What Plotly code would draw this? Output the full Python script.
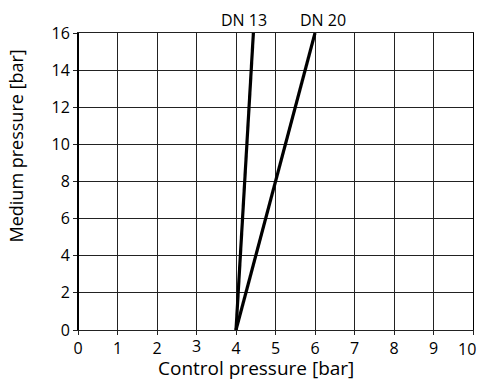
import plotly.graph_objects as go

# Data
dn13_x = [4.0, 4.44]
dn13_y = [0, 16]
dn20_x = [4.0, 6.0]
dn20_y = [0, 16]
series_names = ["DN 13", "DN 20"]
x_ticks = [0, 1, 2, 3, 4, 5, 6, 7, 8, 9, 10]
y_ticks = [0, 2, 4, 6, 8, 10, 12, 14, 16]
x_title = "Control pressure [bar]"
y_title = "Medium pressure [bar]"

font_family = "Open Sans, DejaVu Sans, sans-serif"

fig = go.Figure()
label_shift = {"DN 13": -9, "DN 20": 8}
for xs, ys, name in [(dn13_x, dn13_y, series_names[0]), (dn20_x, dn20_y, series_names[1])]:
    fig.add_trace(go.Scatter(x=xs, y=ys, mode="lines", name=name,
                             line=dict(color="black", width=3.2), showlegend=False,
                             cliponaxis=False, hoverinfo="skip"))
    fig.add_annotation(x=xs[-1], y=ys[-1], text=name, showarrow=False,
                       xref="x", yref="y", yanchor="bottom", yshift=0,
                       xanchor="center", xshift=label_shift[name],
                       font=dict(size=16, color="black", family=font_family))

# tick labels 3 and 10 are drawn as annotations (3 sits higher, 10 is pushed inside)
x_ticktext = [str(v) if v not in (3, 10) else "" for v in x_ticks]
fig.add_annotation(x=3, y=0, xref="x", yref="y", text="3", showarrow=False,
                   yanchor="top", yshift=-3,
                   font=dict(size=16, color="black", family=font_family))
fig.add_annotation(x=10, y=0, xref="x", yref="y", text="10", showarrow=False,
                   yanchor="top", xanchor="right", xshift=5, yshift=-6,
                   font=dict(size=16, color="black", family=font_family))

# axis titles (placed as in the reference, off-centre)
fig.add_annotation(x=0.5, y=0, xref="paper", yref="paper", text=x_title, showarrow=False,
                   xanchor="center", yanchor="middle", xshift=-19.5, yshift=-38,
                   font=dict(size=19, color="black", family=font_family))
fig.add_annotation(x=0, y=0.5, xref="paper", yref="paper", text=y_title, showarrow=False,
                   textangle=-90, xanchor="center", yanchor="middle", xshift=-62.5, yshift=35.5,
                   font=dict(size=18, color="black", family=font_family))

fig.update_layout(
    width=479, height=381, autosize=False,
    margin=dict(l=78, r=6, t=33, b=51, autoexpand=False),
    paper_bgcolor="white", plot_bgcolor="white",
    font=dict(family=font_family, size=16, color="black"),
    xaxis=dict(range=[0, 10], tickmode="array", tickvals=x_ticks, ticktext=x_ticktext,
               showgrid=True, gridcolor="#222", gridwidth=1,
               zeroline=False, showline=True, linecolor="#222", linewidth=1, mirror=True,
               ticks="outside", ticklen=4, tickcolor="#222", automargin=False),
    yaxis=dict(range=[0, 16], tickmode="array", tickvals=y_ticks,
               showgrid=True, gridcolor="#222", gridwidth=1,
               zeroline=False, showline=True, linecolor="black", linewidth=1, mirror=True,
               ticks="outside", ticklen=4, tickcolor="#222", automargin=False),
)
fig.add_shape(type="line", xref="x", yref="y", x0=0, x1=0, y0=0, y1=16,
              line=dict(color="black", width=2))

fig.write_html("out.html", config={"displayModeBar": False},
               post_script="document.body.style.margin='0';document.body.style.overflow='hidden';")
